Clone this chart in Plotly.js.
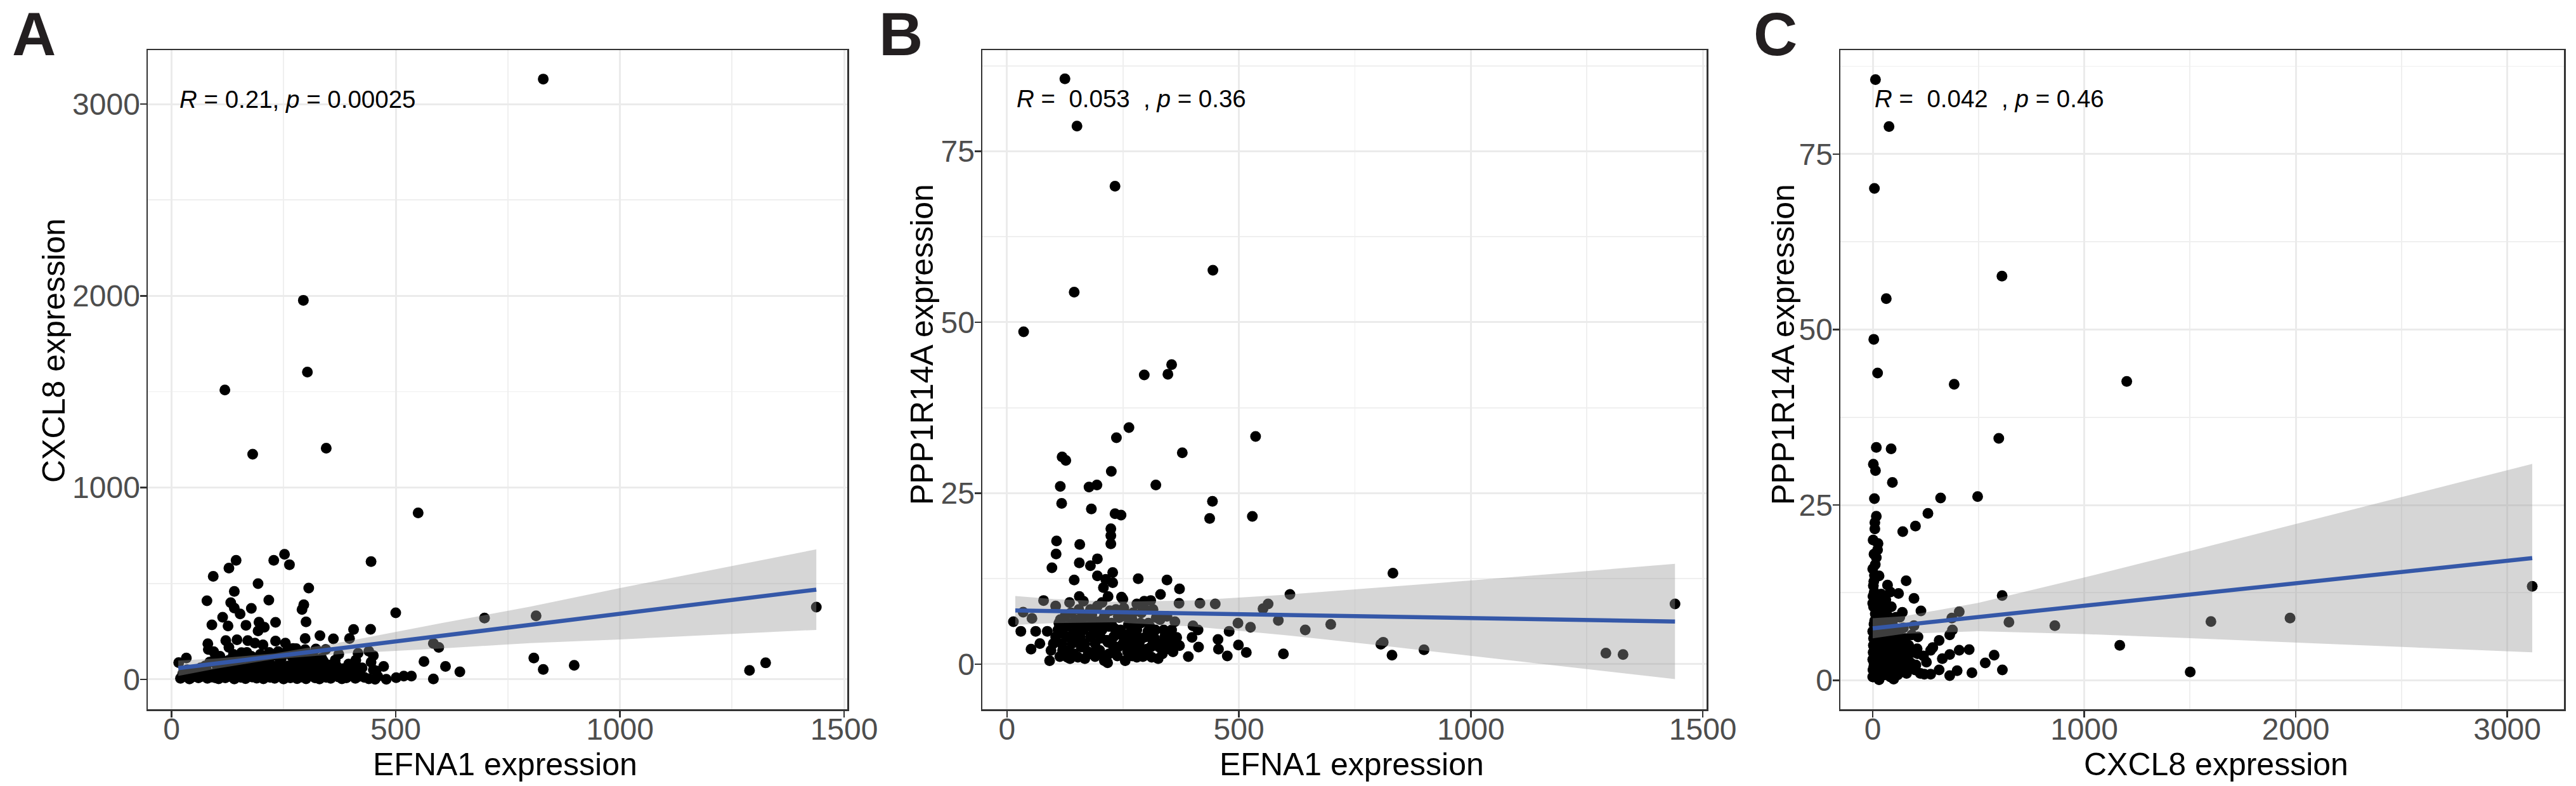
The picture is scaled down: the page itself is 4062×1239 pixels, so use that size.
<!DOCTYPE html>
<html>
<head>
<meta charset="utf-8">
<script src="https://cdn.plot.ly/plotly-3.0.1.min.js"></script>
<style>
  html, body { margin: 0; padding: 0; background: #ffffff; }
  #chart { width: 4062px; height: 1239px; }
</style>
</head>
<body>
<div id="chart"></div>
<script>
// ---------------- Panel A : EFNA1 vs CXCL8 ----------------
const efnaA = [
  829, 294, 303, 119, 345, 181, 550, 1438, 1289, 1325, 898, 829,
  252, 228, 263, 144, 128, 93, 445, 193, 306, 140,
  79, 217, 132, 140, 178, 153, 295, 291, 500, 698,
  813, 114, 90, 126, 166, 195, 232, 207, 193, 300,
  331, 361, 406, 444, 397, 298, 81, 82, 121, 146,
  170, 186, 204, 232, 254, 271, 128, 156, 94, 33,
  16, 322, 344, 373, 416, 440, 450, 584, 596, 563,
  611, 643, 584, 808, 406, 411, 473, 456, 535, 518,
  501, 479, 454, 414, 383, 372, 339, 333, 305, 282, 260,
  20, 30, 40, 50, 60, 70, 80, 90, 100, 105,
  110, 120, 125, 130, 140, 145, 150, 155, 160, 165,
  170, 175, 180, 185, 190, 195, 200, 205, 210, 215,
  220, 225, 230, 235, 240, 245, 250, 255, 260, 265,
  270, 275, 280, 285, 290, 295, 300, 305, 310, 320,
  325, 330, 340, 345, 350, 355, 360, 370, 380, 385,
  390, 400, 410, 420, 430, 440, 450, 460, 35, 55,
  65, 75, 85, 95, 108, 118, 128, 138, 148, 158,
  168, 178, 188, 198, 208, 218, 228, 238, 248, 258,
  268, 278, 288, 298, 315, 335, 365, 395, 425, 445,
  25, 45, 58, 68, 78, 88, 98, 102, 112, 122,
  132, 136, 142, 152, 162, 172, 182, 192, 202, 212,
  222, 232, 242, 252, 262, 272, 282, 292, 302, 312,
  318, 328, 338, 348, 358, 368, 378, 398, 408, 418
];
const cxcl8A = [
  3131, 1977, 1603, 1509, 1206, 1174, 868, 377, 47, 86, 73, 52,
  652, 621, 598, 621, 580, 537, 614, 499, 476, 459,
  410, 413, 400, 372, 370, 341, 389, 364, 347, 320,
  331, 324, 284, 278, 282, 298, 297, 272, 253, 300,
  228, 211, 260, 261, 213, 213, 186, 156, 202, 206,
  202, 189, 180, 200, 189, 161, 167, 139, 144, 111,
  87, 158, 156, 131, 136, 147, 124, 187, 167, 93,
  67, 39, 2, 111, 78, 100, 67, 44, 17, 17,
  9, 0, 0, 13, 56, 13, 94, 61, 122, 100, 67,
  5, 15, 2, 20, 8, 30, 5, 12, 40, 3,
  22, 8, 55, 15, 2, 35, 60, 10, 25, 4,
  45, 80, 12, 30, 6, 65, 18, 3, 40, 90,
  10, 25, 5, 55, 15, 110, 2, 35, 70, 8,
  20, 45, 4, 95, 12, 30, 3, 60, 18, 8,
  40, 2, 25, 10, 75, 5, 30, 15, 3, 45,
  8, 20, 5, 35, 10, 3, 50, 15, 50, 45,
  60, 70, 90, 100, 120, 85, 100, 130, 95, 110,
  140, 120, 100, 130, 115, 140, 125, 145, 130, 150,
  120, 160, 140, 155, 130, 110, 100, 80, 60, 90,
  30, 10, 35, 15, 50, 25, 8, 65, 38, 18,
  70, 42, 20, 85, 48, 22, 60, 35, 90, 55,
  75, 40, 95, 60, 20, 85, 50, 75, 110, 45,
  88, 65, 48, 30, 55, 70, 40, 55, 30, 15
];
// fitted line and 95% band
const fitXA  = [15, 100, 230, 400, 600, 800, 1000, 1200, 1438];
const fitYA  = [58, 82.5, 120, 169, 226.5, 284, 342, 399, 468];
const lowA   = [18, 56, 105, 136, 161, 189, 208, 230, 258];
const highA  = [98, 109, 135, 202, 292, 379, 476, 568, 678];

// ---------------- Panel B : EFNA1 vs PPP1R14A ----------------
const efnaB = [
  125, 151, 233, 444, 145, 36, 355, 347, 296, 263,
  236, 536, 378, 119, 127, 225, 115, 194, 177, 321,
  443, 118, 182, 233, 246, 437, 529,
  832, 1440, 806, 811, 830, 899, 1291, 1328,
  224, 224, 224, 107, 157, 106, 156, 195, 180, 97,
  195, 228, 228, 213, 145, 208, 283, 345, 372, 331,
  218, 156, 247, 296, 371, 416, 449, 610, 563, 552,
  79, 35, 54, 14, 30, 52, 92, 498, 525, 585,
  643, 698, 596, 516, 499, 455, 456, 475, 479, 401,
  412, 399, 413, 391, 366, 372, 347, 326, 304, 315,
  277, 269, 293, 255, 217, 190, 168, 136, 114, 71,
  62, 87,
  100, 110, 120, 125, 130, 140, 145, 150, 155, 160,
  165, 170, 175, 180, 185, 190, 195, 200, 205, 210,
  215, 220, 225, 230, 235, 240, 245, 250, 255, 260,
  265, 270, 275, 280, 285, 290, 295, 300, 305, 310,
  315, 320, 325, 330, 335, 340, 345, 350, 355, 360,
  105, 115, 135, 165, 205, 250, 280, 310, 120, 140,
  160, 180, 200, 220, 240, 260, 280, 300, 130, 190,
  230, 270, 150, 210,
  95, 105, 112, 118, 128, 133, 138, 143, 148, 153,
  158, 163, 168, 173, 178, 183, 188, 193, 198, 203,
  208, 212, 218, 222, 228, 232, 238, 242, 248, 252,
  258, 262, 268, 272, 278, 282, 288, 292, 298, 302,
  308, 312, 318, 322, 328, 338, 342, 352, 358, 362
];
const pppB = [
  85.6, 78.7, 69.9, 57.6, 54.4, 48.6, 43.8, 42.4, 42.3, 34.6,
  33.1, 33.3, 30.9, 30.3, 29.8, 28.2, 26.0, 26.2, 25.9, 26.2,
  23.8, 23.5, 22.7, 22.0, 21.8, 21.3, 21.6,
  13.3, 8.8, 2.9, 3.2, 1.3, 2.1, 1.6, 1.4,
  19.8, 18.8, 17.6, 18.0, 17.5, 16.1, 14.8, 15.4, 14.4, 14.1,
  12.9, 13.4, 11.9, 12.4, 12.3, 11.2, 12.5, 12.3, 11.0, 10.2,
  9.9, 9.9, 9.8, 9.2, 8.9, 8.9, 8.8, 10.2, 8.8, 8.1,
  9.3, 7.6, 6.7, 6.2, 4.8, 2.2, 0.5, 6.0, 5.4, 6.4,
  5.0, 5.8, 1.5, 1.7, 2.8, 3.6, 2.2, 1.2, 4.8, 5.6,
  5.0, 3.9, 2.5, 1.1, 3.9, 2.7, 3.3, 0.8, 4.8, 3.3,
  5.8, 3.6, 1.1, 0.5, 0.2, 1.1, 0.8, 0.8, 1.1, 3.0,
  4.8, 4.8,
  3, 5, 2, 7, 4, 6, 1.5, 3.5, 8, 2.5,
  5, 7, 1.8, 4, 6, 3, 8.5, 2, 5, 7,
  3.5, 1.5, 6, 4, 8, 2.5, 5, 3, 7, 1.8,
  4.5, 6.5, 2, 5, 3, 7.5, 1.2, 4, 6, 2.5,
  8, 5, 3, 6.5, 1.5, 4, 7, 2.2, 5, 3,
  8.5, 6.5, 9, 9.2, 9, 9.5, 8.8, 9.3, 4.5, 3,
  6, 8, 4.2, 5.5, 7, 3.5, 1, 2, 1, 5.8,
  2, 1.2, 5.2, 0.5,
  2, 4, 6, 3, 5.5, 2, 7.5, 4.5, 6.5, 1,
  4, 7, 3, 5.5, 1.5, 7.2, 4.8, 2.2, 6.2, 3.8,
  1.2, 5.8, 3.2, 7.8, 2.8, 5.2, 1.2, 6.8, 4.2, 8.2,
  2.5, 5.8, 3, 7.5, 4.2, 2, 6, 3.8, 8, 2.2,
  5.5, 1, 3.8, 6.8, 2.5, 5, 2.8, 4, 1.8, 6.2
];
const fitXB  = [18, 100, 230, 400, 600, 800, 1000, 1200, 1440];
const fitYB  = [7.85, 7.76, 7.61, 7.41, 7.19, 6.96, 6.73, 6.50, 6.23];
const lowB   = [5.75, 6.0, 6.10, 5.50, 4.23, 2.76, 1.23, -0.33, -2.2];
const highB  = [9.95, 9.52, 9.12, 9.32, 10.15, 11.16, 12.23, 13.33, 14.66];

// ---------------- Panel C : CXCL8 vs PPP1R14A ----------------
const cxcl8C = [
  13, 77, 8, 611, 64, 5, 1201, 3118, 1599, 1973, 1168, 1501,
  23, 385, 596, 17, 87, 3, 13, 93, 8, 321,
  496, 17, 10, 10, 261, 202, 142, 25, 23, 17,
  0, 30, 5, 158, 70, 83, 7, 40, 122, 195,
  612, 0, 67, 140, 228, 409, 374, 644, 861, 195,
  377, 364, 214, 314, 284, 274, 154, 139, 212, 364,
  329, 409, 456, 574, 532, 469, 613, 399, 364, 314,
  254, 274, 244, 175, 204, 99, 30,
  2, 5, 8, 3, 10, 6, 12, 4, 15, 18,
  20, 22, 25, 28, 30, 35, 38, 40, 45, 48,
  50, 55, 58, 60, 65, 68, 72, 75, 80, 85,
  90, 95, 100, 105, 110, 115, 120, 125, 130, 135,
  140, 150, 160, 170, 180, 190, 200, 1, 3, 8,
  12, 6, 2, 14, 18, 25, 32, 42, 52, 62,
  78, 88, 110, 0, 0, 1, 16, 33, 47, 57,
  67, 83, 93, 103, 118, 128, 145, 165, 185, 210,
  225, 240,
  0, 2, 4, 6, 9, 11, 13, 16, 19, 21,
  24, 27, 29, 33, 36, 39, 43, 46, 49, 53,
  56, 59, 63, 66, 70, 74, 77, 82, 87, 92,
  97, 102, 108, 113, 117, 123, 133, 143, 155, 168
];
const pppC = [
  85.6, 78.9, 70.1, 57.6, 54.4, 48.6, 42.6, 13.4, 8.4, 8.9, 5.0, 1.2,
  43.8, 42.2, 34.5, 33.2, 33.0, 30.8, 29.9, 28.2, 25.9, 26.0,
  26.2, 23.4, 22.5, 21.6, 23.8, 22.0, 21.2, 19.5, 18.6, 17.5,
  15.9, 14.9, 14.1, 14.2, 13.6, 12.6, 12.6, 12.3, 12.4, 11.7,
  12.1, 11.0, 10.1, 9.7, 9.9, 9.8, 8.9, 8.3, 7.8, 7.8,
  7.2, 6.5, 6.2, 5.7, 4.7, 4.3, 5.4, 3.9, 3.8, 3.7,
  3.1, 4.3, 4.4, 3.6, 2.5, 1.1, 1.5, 1.4, 0.7, 1.5,
  2.6, 0.9, 0.9, 1.7, 2.2, 0.2, 0.1,
  0.5, 2, 3.5, 5, 6.5, 8, 9.5, 10.5, 1, 3,
  5, 7, 9, 2, 4, 6, 8, 1, 3, 5,
  7, 9.5, 2, 4.5, 6, 1, 3, 5.5, 7.5, 2,
  4, 6.5, 3, 1, 5, 2.5, 7, 4, 1.5, 6,
  2, 3.5, 1, 5, 2.5, 4, 1.5, 12, 13.5, 15,
  16.5, 18, 20, 11.5, 10, 12, 10.5, 11, 10, 11.5,
  9, 10.5, 9, 7, 3, 1.5, 7.5, 0.5, 8.5, 0.8,
  4, 0.5, 8, 5.5, 0.8, 9, 7.5, 3, 6.5, 4.5,
  1, 3.5,
  0.5, 4, 6, 2.5, 8.5, 1, 4.5, 6, 2, 8,
  3.5, 5.5, 1.5, 7, 3, 9, 5, 1.8, 6.5, 4,
  8, 2.8, 5.2, 7.2, 3.3, 1.2, 6, 4.3, 8.3, 2.6,
  5, 7, 3.4, 1.4, 5.6, 3, 4.8, 2.4, 6, 4
];
const fitXC  = [0, 150, 500, 1000, 1500, 2000, 2500, 3118];
const fitYC  = [7.43, 7.91, 9.03, 10.64, 12.24, 13.84, 15.45, 17.43];
const lowC   = [6.0, 6.65, 7.01, 6.61, 6.03, 5.41, 4.79, 4.0];
const highC  = [8.86, 9.17, 11.05, 14.67, 18.45, 22.27, 26.11, 30.86];

// ---------------- text ----------------
const panelLetters = ['A', 'B', 'C'];
const xTitles = ['EFNA1 expression', 'EFNA1 expression', 'CXCL8 expression'];
const yTitles = ['CXCL8 expression', 'PPP1R14A expression', 'PPP1R14A expression'];
const statLabels = [
  '<i>R</i> = 0.21, <i>p</i> = 0.00025',
  '<i>R</i> = \u00a00.053\u00a0 , <i>p</i> = 0.36',
  '<i>R</i> = \u00a00.042\u00a0 , <i>p</i> = 0.46'
];

// ---------------- build ----------------
const W = 4062, H = 1239;
const FONT = 'Liberation Sans, Arial, Helvetica, sans-serif';
const px = v => v / W;
const py = v => 1 - v / H;

const panels = [
  {x: efnaA, y: cxcl8A, fx: fitXA, fy: fitYA, lo: lowA, hi: highA, xa: 'x', ya: 'y'},
  {x: efnaB, y: pppB, fx: fitXB, fy: fitYB, lo: lowB, hi: highB, xa: 'x2', ya: 'y2'},
  {x: cxcl8C, y: pppC, fx: fitXC, fy: fitYC, lo: lowC, hi: highC, xa: 'x3', ya: 'y3'}
];

const traces = [];
panels.forEach(p => {
  traces.push({
    type: 'scatter', mode: 'markers', x: p.x, y: p.y, xaxis: p.xa, yaxis: p.ya,
    marker: {color: '#000000', size: 17, line: {width: 0}},
    hoverinfo: 'skip', showlegend: false
  });
  traces.push({
    type: 'scatter', mode: 'lines',
    x: p.fx.concat(p.fx.slice().reverse()),
    y: p.hi.concat(p.lo.slice().reverse()),
    xaxis: p.xa, yaxis: p.ya,
    fill: 'toself', fillcolor: 'rgba(153,153,153,0.4)',
    line: {width: 0, color: 'rgba(0,0,0,0)'},
    hoverinfo: 'skip', showlegend: false
  });
  traces.push({
    type: 'scatter', mode: 'lines', x: p.fx, y: p.fy, xaxis: p.xa, yaxis: p.ya,
    line: {color: '#3558A8', width: 6.5},
    hoverinfo: 'skip', showlegend: false
  });
});

function axis(domain, range, dtick, anchor, isX) {
  return {
    domain: domain, range: range, anchor: anchor, autorange: false,
    tickmode: 'linear', tick0: 0, dtick: dtick,
    showline: true, mirror: true, linecolor: '#333333', linewidth: 2.5,
    ticks: 'outside', ticklen: 10, tickwidth: 2.5, tickcolor: '#333333',
    ticklabelstandoff: isX ? -22 : -10,
    tickfont: {family: FONT, size: 48, color: '#4D4D4D'},
    showgrid: true, gridcolor: '#EBEBEB', gridwidth: 3,
    zeroline: false,
    minor: {dtick: dtick / 2, tick0: 0, showgrid: true, gridcolor: '#EFEFEF', gridwidth: 1.8, ticks: ''}
  };
}

const yDom = [py(1118), py(79)];
const layout = {
  width: W, height: H,
  margin: {l: 0, r: 0, t: 0, b: 0},
  paper_bgcolor: '#ffffff', plot_bgcolor: '#ffffff',
  showlegend: false,
  font: {family: FONT, color: '#000000'},
  xaxis:  axis([px(233), px(1336)], [-53, 1507], 500, 'y', true),
  yaxis:  axis(yDom, [-156, 3282], 1000, 'x', false),
  xaxis2: axis([px(1549), px(2691)], [-53, 1508], 500, 'y2', true),
  yaxis2: axis(yDom, [-6.6, 89.8], 25, 'x2', false),
  xaxis3: axis([px(2902), px(4043)], [-153, 3268], 1000, 'y3', true),
  yaxis3: axis(yDom, [-4.1, 89.8], 25, 'x3', false),
  annotations: []
};

// panel letters
const letterX = [16.5, 1384, 2763];
panelLetters.forEach((t, i) => layout.annotations.push({
  xref: 'paper', yref: 'paper', x: px(letterX[i]), y: py(53.5), xanchor: 'left', yanchor: 'middle',
  text: '<b>' + t + '</b>', showarrow: false,
  font: {family: FONT, size: 96, color: '#231F20'}
}));

// axis titles
const xTitleX = [796, 2131, 3494];
xTitles.forEach((t, i) => layout.annotations.push({
  xref: 'paper', yref: 'paper', x: px(xTitleX[i]), y: py(1205), xanchor: 'center', yanchor: 'middle',
  text: t, showarrow: false, font: {family: FONT, size: 50, color: '#000000'}
}));
const yTitleX = [85, 1454, 2812];
const yTitleY = [553, 543, 543];
yTitles.forEach((t, i) => layout.annotations.push({
  xref: 'paper', yref: 'paper', x: px(yTitleX[i]), y: py(yTitleY[i]), xanchor: 'center', yanchor: 'middle',
  text: t, textangle: -90, showarrow: false, font: {family: FONT, size: 50, color: '#000000'}
}));

// correlation labels (placed at min x of each panel, in data units)
const statX = [15, 18, 3];
const statY = [3026, 82.7, 82.9];
const statRef = [['x', 'y'], ['x2', 'y2'], ['x3', 'y3']];
statLabels.forEach((t, i) => layout.annotations.push({
  xref: statRef[i][0], yref: statRef[i][1], x: statX[i], y: statY[i],
  xanchor: 'left', yanchor: 'middle', text: t, showarrow: false,
  font: {family: FONT, size: 38.5, color: '#000000'}
}));

Plotly.newPlot('chart', traces, layout, {staticPlot: true, displayModeBar: false});
</script>
</body>
</html>
